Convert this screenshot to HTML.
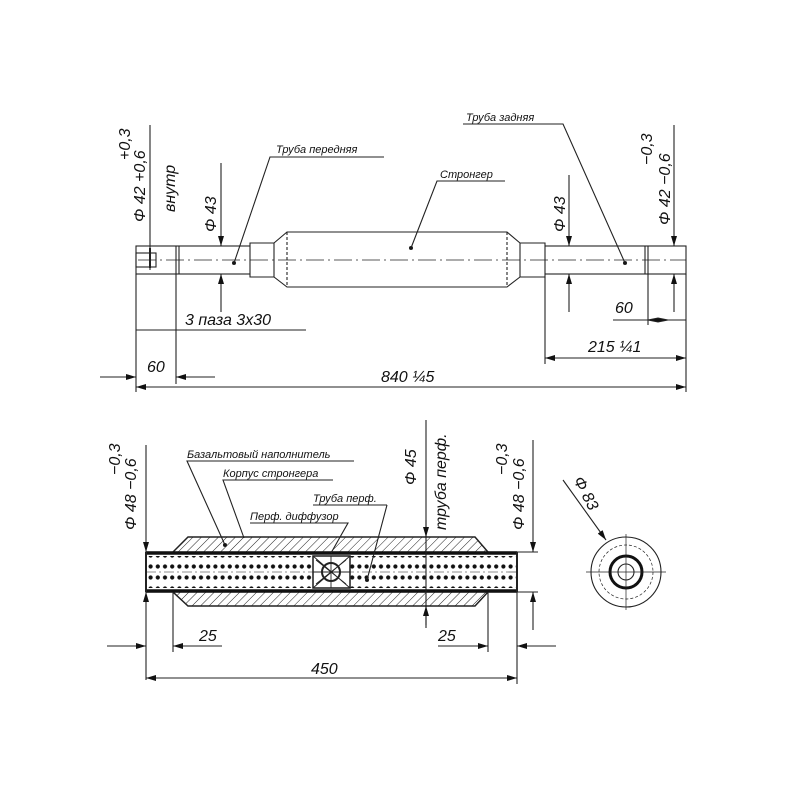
<!DOCTYPE html>
<html><head><meta charset="utf-8"><style>
body{margin:0;background:#fff}
svg{display:block}
text{font-family:"Liberation Sans",sans-serif;font-style:italic;fill:#111}
</style></head><body>
<svg width="800" height="800" viewBox="0 0 800 800" xmlns="http://www.w3.org/2000/svg">
<defs>
<pattern id="h" width="6" height="6" patternUnits="userSpaceOnUse" patternTransform="rotate(45)">
<line x1="0" y1="0" x2="0" y2="6" stroke="#222" stroke-width="1"/></pattern>
<pattern id="d" width="7.2" height="11" patternUnits="userSpaceOnUse" x="147" y="561">
<circle cx="3.6" cy="5.5" r="2.1" fill="#111"/></pattern>
<marker id="a" viewBox="0 0 10 6" refX="10" refY="3" markerWidth="11" markerHeight="6" orient="auto-start-reverse" markerUnits="userSpaceOnUse"><path d="M0,0 L10,3 L0,6 z" fill="#111"/></marker>
</defs>
<g stroke="#222" stroke-width="1.1" fill="none">
<!-- TOP VIEW -->
<rect x="136" y="246" width="550" height="28"/>
<line x1="176" y1="246" x2="176" y2="274"/><line x1="179" y1="246" x2="179" y2="274"/>
<line x1="645" y1="246" x2="645" y2="274"/><line x1="648" y1="246" x2="648" y2="274"/>
<path d="M250,243 H274 L287,232 H507 L520,243 H545 V277 H520 L507,287 H287 L274,277 H250 Z" fill="#fff"/>
<line x1="287" y1="232" x2="287" y2="287" stroke-dasharray="3,2"/><line x1="507" y1="232" x2="507" y2="287" stroke-dasharray="3,2"/>
<line x1="274" y1="243" x2="274" y2="277"/><line x1="520" y1="243" x2="520" y2="277"/>
<line x1="138" y1="260" x2="686" y2="260" stroke-dasharray="18,4,2,4" stroke-width="0.7"/>
<rect x="136" y="253" width="20" height="14"/>
<line x1="150" y1="125" x2="150" y2="270"/>
<line x1="150" y1="248" x2="150" y2="268" stroke-width="2"/>
<line x1="221" y1="163" x2="221" y2="246" marker-end="url(#a)"/>
<line x1="221" y1="312" x2="221" y2="274" marker-end="url(#a)"/>
<line x1="569" y1="175" x2="569" y2="246" marker-end="url(#a)"/>
<line x1="569" y1="312" x2="569" y2="274" marker-end="url(#a)"/>
<line x1="674" y1="125" x2="674" y2="246" marker-end="url(#a)"/>
<line x1="674" y1="312" x2="674" y2="274" marker-end="url(#a)"/>
<line x1="136" y1="274" x2="136" y2="392"/><line x1="686" y1="274" x2="686" y2="392"/>
<line x1="176" y1="274" x2="176" y2="384"/><line x1="545" y1="277" x2="545" y2="364"/>
<line x1="648" y1="274" x2="648" y2="325"/>
<line x1="136" y1="330" x2="306" y2="330"/>
<line x1="100" y1="377" x2="136" y2="377" marker-end="url(#a)"/>
<line x1="215" y1="377" x2="176" y2="377" marker-end="url(#a)"/>
<line x1="136" y1="387" x2="686" y2="387" marker-start="url(#a)" marker-end="url(#a)"/>
<line x1="545" y1="358" x2="686" y2="358" marker-start="url(#a)" marker-end="url(#a)"/>
<line x1="613" y1="320" x2="686" y2="320"/>
<path d="M648,320 L658,318 L668,320 L658,322 Z" fill="#111"/>
<polyline points="384,157 270,157 234,263"/><circle cx="234" cy="263" r="1.5" fill="#111"/>
<polyline points="505,181 437,181 411,248"/><circle cx="411" cy="248" r="1.5" fill="#111"/>
<polyline points="463,124 563,124 625,263"/><circle cx="625" cy="263" r="1.5" fill="#111"/>

<!-- BOTTOM VIEW -->
<path d="M173,552 L188,537 H475 L488,552 V592 L475,606 H188 L173,592 Z" fill="url(#h)" stroke-width="1.5"/>
<rect x="146" y="552" width="371" height="40" fill="#fff"/>
<rect x="146" y="556" width="371" height="32" fill="url(#d)" stroke="none"/>
<line x1="146" y1="553" x2="517" y2="553" stroke-width="3.5" stroke="#111"/>
<line x1="146" y1="591" x2="517" y2="591" stroke-width="3.5" stroke="#111"/>
<line x1="146" y1="552" x2="146" y2="592" stroke-width="2"/><line x1="517" y1="552" x2="517" y2="592" stroke-width="2"/>
<line x1="146" y1="572" x2="517" y2="572" stroke-dasharray="10,3,2,3" stroke-width="0.6"/>
<rect x="313" y="556" width="37" height="32" fill="#fff"/>
<path d="M313,556 L350,588 M350,556 L313,588 M331,556 V588 M313,572 H350 M316,560 L346,584 M346,560 L316,584" stroke-width="0.9"/>
<circle cx="331" cy="572" r="9" stroke-width="2"/>
<rect x="313" y="556" width="37" height="32" stroke-width="1.5"/>
<line x1="426" y1="420" x2="426" y2="628"/>
<line x1="426" y1="520" x2="426" y2="537" marker-end="url(#a)"/>
<line x1="426" y1="625" x2="426" y2="606" marker-end="url(#a)"/>
<line x1="146" y1="445" x2="146" y2="552" marker-end="url(#a)"/>
<line x1="146" y1="680" x2="146" y2="592" marker-end="url(#a)"/>
<line x1="517" y1="592" x2="517" y2="684"/>
<line x1="533" y1="440" x2="533" y2="552" marker-end="url(#a)"/>
<line x1="533" y1="630" x2="533" y2="592" marker-end="url(#a)"/>
<line x1="517" y1="552" x2="538" y2="552"/><line x1="517" y1="592" x2="538" y2="592"/>
<line x1="173" y1="592" x2="173" y2="652"/><line x1="488" y1="592" x2="488" y2="652"/>
<line x1="107" y1="646" x2="146" y2="646" marker-end="url(#a)"/>
<line x1="222" y1="646" x2="173" y2="646" marker-end="url(#a)"/>
<line x1="438" y1="646" x2="488" y2="646" marker-end="url(#a)"/>
<line x1="556" y1="646" x2="517" y2="646" marker-end="url(#a)"/>
<line x1="146" y1="678" x2="517" y2="678" marker-start="url(#a)" marker-end="url(#a)"/>
<polyline points="354,461 187,461 225,545"/><circle cx="225" cy="545" r="1.5" fill="#111"/>
<polyline points="333,480 223,480 244,538"/>
<polyline points="387,505 313,505"/><line x1="387" y1="505" x2="367" y2="580"/><circle cx="367" cy="580" r="1.5" fill="#111"/>
<polyline points="250,523 348,523 331,553"/>
<circle cx="626" cy="572" r="35"/>
<circle cx="626" cy="572" r="27" stroke-dasharray="3,2" stroke-width="0.7"/>
<circle cx="626" cy="572" r="16" stroke-width="3" stroke="#111"/>
<circle cx="626" cy="572" r="8"/>
<line x1="586" y1="572" x2="666" y2="572" stroke-width="0.7"/><line x1="626" y1="534" x2="626" y2="610" stroke-width="0.7"/>
<line x1="563" y1="480" x2="606" y2="540" marker-end="url(#a)"/>
</g>
<g font-size="16">
<text x="185" y="325">3 паза 3x30</text>
<text x="147" y="372">60</text>
<text x="381" y="382">840 ¼5</text>
<text x="588" y="352">215 ¼1</text>
<text x="615" y="313">60</text>
<text x="199" y="641">25</text>
<text x="438" y="641">25</text>
<text x="311" y="674">450</text>
<text transform="translate(216,232) rotate(-90)">Φ 43</text>
<text transform="translate(565,232) rotate(-90)">Φ 43</text>
<text transform="translate(145,222) rotate(-90)">Φ 42 +0,6</text>
<text transform="translate(130,160) rotate(-90)">+0,3</text>
<text transform="translate(175,212) rotate(-90)">внутр</text>
<text transform="translate(670,225) rotate(-90)">Φ 42 −0,6</text>
<text transform="translate(652,165) rotate(-90)">−0,3</text>
<text transform="translate(136,530) rotate(-90)">Φ 48 −0,6</text>
<text transform="translate(120,475) rotate(-90)">−0,3</text>
<text transform="translate(524,530) rotate(-90)">Φ 48 −0,6</text>
<text transform="translate(507,475) rotate(-90)">−0,3</text>
<text transform="translate(416,485) rotate(-90)">Φ 45</text>
<text transform="translate(446,530) rotate(-90)">труба перф.</text>
<text transform="translate(573,480) rotate(62)">Φ 83</text>
</g>
<g font-size="11">
<text x="276" y="153">Труба передняя</text>
<text x="440" y="178">Стронгер</text>
<text x="466" y="121">Труба задняя</text>
<text x="187" y="458">Базальтовый наполнитель</text>
<text x="223" y="477">Корпус стронгера</text>
<text x="313" y="502">Труба перф.</text>
<text x="250" y="520">Перф. диффузор</text>
</g>
</svg>
</body></html>
